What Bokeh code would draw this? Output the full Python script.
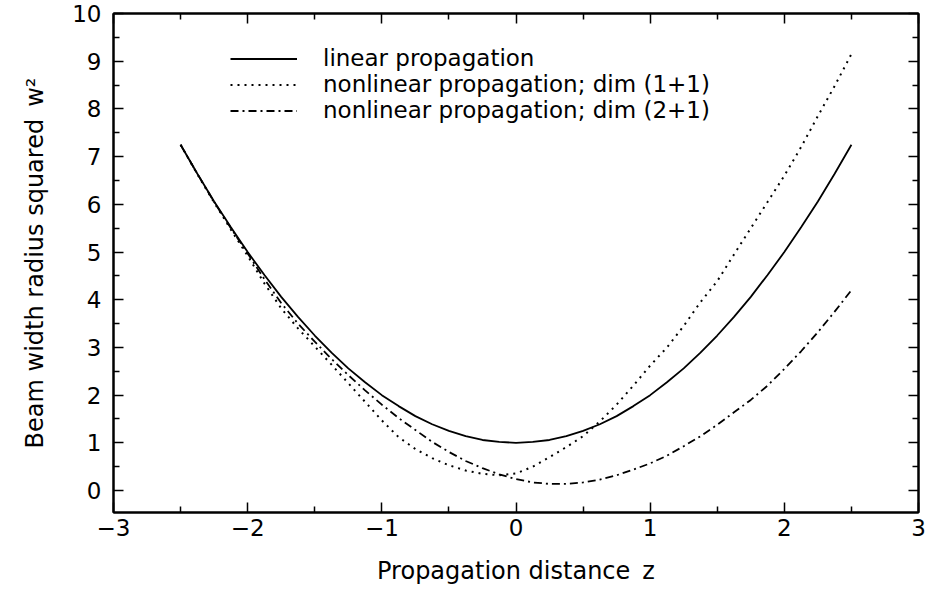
from bokeh.plotting import figure
from bokeh.models import LinearAxis, Range1d, Legend, LegendItem, FixedTicker, ColumnDataSource
from bokeh.embed import file_html
from bokeh.resources import INLINE

# ---- data ----
z = [-2.5, -2.375, -2.25, -2.125, -2.0, -1.875, -1.75, -1.625, -1.5, -1.375,
     -1.25, -1.125, -1.0, -0.875, -0.75, -0.625, -0.5, -0.375, -0.25, -0.125,
     0.0, 0.125, 0.25, 0.375, 0.5, 0.625, 0.75, 0.875, 1.0, 1.125,
     1.25, 1.375, 1.5, 1.625, 1.75, 1.875, 2.0, 2.125, 2.25, 2.375, 2.5]
w2_linear = [7.25, 6.64, 6.06, 5.52, 5.0, 4.52, 4.06, 3.64, 3.25, 2.89,
             2.56, 2.27, 2.0, 1.77, 1.56, 1.39, 1.25, 1.14, 1.06, 1.02,
             1.0, 1.02, 1.06, 1.14, 1.25, 1.39, 1.56, 1.77, 2.0, 2.27,
             2.56, 2.89, 3.25, 3.64, 4.06, 4.52, 5.0, 5.52, 6.06, 6.64, 7.25]
w2_dim11 = [7.25, 6.63, 6.04, 5.47, 4.92, 4.34, 3.82, 3.40, 3.02, 2.64,
            2.25, 1.86, 1.47, 1.12, 0.87, 0.68, 0.53, 0.42, 0.35, 0.32,
            0.36, 0.50, 0.70, 0.91, 1.14, 1.45, 1.80, 2.20, 2.62, 3.00,
            3.45, 3.95, 4.39, 4.95, 5.50, 6.05, 6.60, 7.20, 7.85, 8.48, 9.15]
w2_dim21 = [7.25, 6.64, 6.05, 5.50, 4.97, 4.43, 3.93, 3.50, 3.12, 2.76,
            2.42, 2.10, 1.80, 1.52, 1.27, 1.02, 0.81, 0.62, 0.47, 0.34,
            0.24, 0.17, 0.14, 0.14, 0.17, 0.23, 0.32, 0.44, 0.57, 0.73,
            0.93, 1.14, 1.38, 1.64, 1.90, 2.20, 2.55, 2.92, 3.32, 3.75, 4.20]

series_labels = ["linear propagation",
                 "nonlinear propagation; dim (1+1)",
                 "nonlinear propagation; dim (2+1)"]
x_ticks = [-3, -2, -1, 0, 1, 2, 3]
x_tick_labels = ["\u22123", "\u22122", "\u22121", "0", "1", "2", "3"]
y_ticks = [0, 1, 2, 3, 4, 5, 6, 7, 8, 9, 10]
x_title = "Propagation distance\u2002z"
y_title = "Beam width radius squared\u2002w\u00b2"

FONT = "DejaVu Sans"

p = figure(width=926, height=589, output_backend="svg", toolbar_location=None,
           x_range=Range1d(-3, 3), y_range=Range1d(-0.46, 10),
           min_border_left=113, min_border_right=8, min_border_top=13, min_border_bottom=77)
p.background_fill_color = "white"
p.border_fill_color = "white"
p.outline_line_color = "black"
p.outline_line_width = 2
p.xgrid.visible = False
p.ygrid.visible = False

src = ColumnDataSource(dict(z=z, a=w2_linear, b=w2_dim11, c=w2_dim21))
r1 = p.line("z", "a", source=src, line_color="black", line_width=1.8)
r2 = p.line("z", "b", source=src, line_color="black", line_width=2, line_dash="2 5")
r3 = p.line("z", "c", source=src, line_color="black", line_width=1.8, line_dash="8 4 2 4")

def style_axis(ax, labels=True):
    ax.axis_line_color = "black"
    ax.axis_line_width = 2
    ax.major_tick_in = 10
    ax.major_tick_out = 0
    ax.minor_tick_in = 6
    ax.minor_tick_out = 0
    ax.major_tick_line_width = 1.5
    ax.minor_tick_line_width = 1.5
    ax.major_tick_line_color = "black"
    ax.minor_tick_line_color = "black"
    ax.major_label_text_font = FONT
    ax.major_label_text_font_size = "23px"
    ax.major_label_text_color = "black" if labels else None
    ax.axis_label_text_font = FONT
    ax.axis_label_text_font_size = "24px"
    ax.axis_label_text_font_style = "normal"
    ax.axis_label_text_color = "black"

xt = FixedTicker(ticks=x_ticks, minor_ticks=[v + 0.5 for v in x_ticks[:-1]])
yt = FixedTicker(ticks=y_ticks, minor_ticks=[v + 0.5 for v in y_ticks[:-1]])

xa = p.xaxis[0]
xa.ticker = xt
xa.major_label_overrides = {t: l for t, l in zip(x_ticks, x_tick_labels)}
xa.axis_label = x_title
xa.major_label_standoff = 6
xa.axis_label_standoff = 18
style_axis(xa)

ya = p.yaxis[0]
ya.ticker = yt
ya.axis_label = y_title
ya.major_label_standoff = 12
ya.axis_label_standoff = 20
style_axis(ya)

top = LinearAxis(ticker=xt)
style_axis(top, labels=False)
p.add_layout(top, "above")
right = LinearAxis(ticker=yt)
style_axis(right, labels=False)
p.add_layout(right, "right")
top.major_label_text_font_size = "0px"
right.major_label_text_font_size = "0px"
top.major_label_standoff = 0
right.major_label_standoff = 0

legend = Legend(items=[LegendItem(label=series_labels[0], renderers=[r1]),
                       LegendItem(label=series_labels[1], renderers=[r2]),
                       LegendItem(label=series_labels[2], renderers=[r3])],
                location=(117, 389))
legend.border_line_color = None
legend.background_fill_alpha = 0
legend.padding = 0
legend.spacing = 0
legend.margin = 0
legend.label_height = 21
legend.glyph_height = 21
legend.glyph_width = 67
legend.label_standoff = 26
legend.label_text_font = FONT
legend.label_text_font_size = "23px"
legend.label_text_color = "black"
p.add_layout(legend, "center")

open("out.html", "w").write(file_html(p, INLINE))
